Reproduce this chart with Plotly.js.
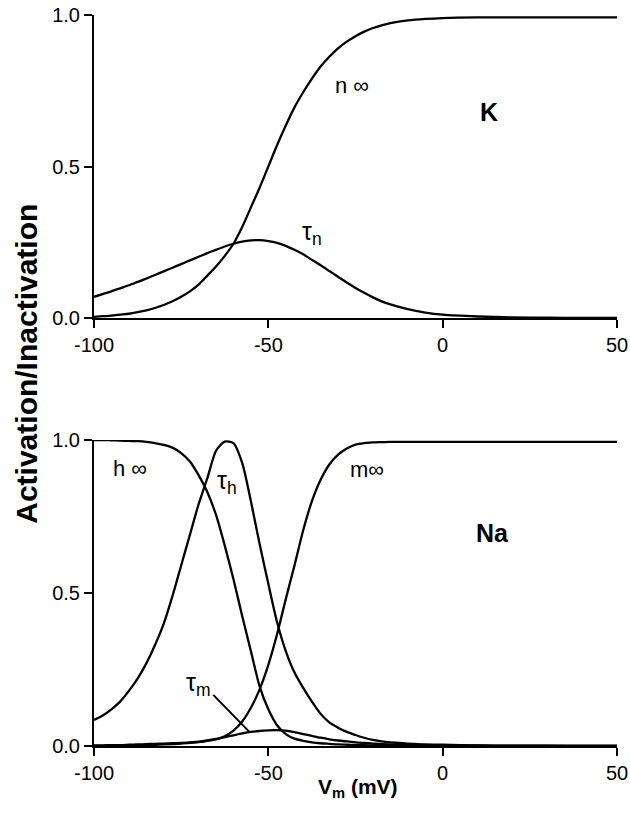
<!DOCTYPE html>
<html>
<head>
<meta charset="utf-8">
<script src="https://cdn.plot.ly/plotly-3.0.1.min.js"></script>
<style>html,body{margin:0;padding:0;background:#fff;}#chart{width:630px;height:813px;}</style>
</head>
<body>
<div id="chart"></div>
<script>
// ---- Data ----
// Membrane potential samples (mV), shared by every curve
const Vm = [-100,-97.5,-95,-92.5,-90,-87.5,-85,-82.5,-80,-77.5,-75,-72.5,-70,-67.5,-65,-62.5,-60,-57.5,-55,-52.5,
            -50,-47.5,-45,-42.5,-40,-37.5,-35,-32.5,-30,-27.5,-25,-22.5,-20,-17.5,-15,-10,-5,0,10,20,30,40,50];

// Top panel (K)
const nInf = [0.004,0.006,0.008,0.011,0.014,0.019,0.025,0.033,0.043,0.055,0.07,0.088,0.11,0.14,0.17,0.205,0.245,0.3,0.365,0.43,
              0.5,0.57,0.635,0.695,0.745,0.79,0.83,0.862,0.89,0.912,0.93,0.945,0.957,0.966,0.973,0.982,0.987,0.99,0.992,0.992,0.992,0.992,0.992];
const tauN = [0.07,0.079,0.088,0.098,0.108,0.119,0.13,0.142,0.154,0.166,0.178,0.19,0.202,0.214,0.225,0.236,0.245,0.252,0.256,0.257,
              0.254,0.248,0.238,0.225,0.21,0.192,0.174,0.155,0.136,0.117,0.099,0.083,0.068,0.055,0.045,0.029,0.018,0.011,0.005,0.002,0.001,0,0];

// Bottom panel (Na)
const hInf = [1.0,1.0,0.999,0.998,0.997,0.996,0.994,0.99,0.984,0.975,0.957,0.93,0.885,0.83,0.755,0.655,0.545,0.425,0.31,0.195,
              0.12,0.068,0.039,0.024,0.017,0.012,0.009,0.007,0.005,0.004,0.003,0.0025,0.002,0.0015,0.001,0.001,0.001,0,0,0,0,0,0];
const tauH = [0.085,0.1,0.12,0.145,0.18,0.22,0.27,0.33,0.4,0.49,0.59,0.69,0.79,0.875,0.965,0.995,0.99,0.925,0.8,0.66,
              0.53,0.405,0.31,0.24,0.19,0.145,0.105,0.077,0.06,0.046,0.036,0.027,0.02,0.015,0.012,0.008,0.005,0.004,0.002,0.001,0.001,0,0];
const mInf = [0,0,0.001,0.001,0.002,0.002,0.003,0.004,0.005,0.006,0.008,0.01,0.013,0.017,0.022,0.032,0.05,0.08,0.125,0.185,
              0.265,0.365,0.48,0.59,0.705,0.8,0.87,0.92,0.952,0.972,0.985,0.99,0.992,0.993,0.994,0.994,0.994,0.994,0.994,0.994,0.994,0.994,0.994];
const tauM = [0.002,0.002,0.003,0.003,0.004,0.005,0.006,0.007,0.008,0.009,0.01,0.012,0.014,0.018,0.023,0.029,0.035,0.041,0.046,0.049,
              0.051,0.052,0.05,0.045,0.039,0.033,0.027,0.022,0.018,0.015,0.012,0.01,0.008,0.006,0.005,0.003,0.002,0.001,0.001,0,0,0,0];

// Tick labels
const xTickVals = [-100,-50,0,50];
const xTickText = ['-100','-50','0','50'];
const yTickVals = [0,0.5,1];
const yTickText = ['0.0','0.5','1.0'];

const FONT = 'Liberation Sans, Arial, Helvetica, sans-serif';
const lineStyle = {color:'#000', width:2.3, shape:'spline', smoothing:0.7};
function tr(y,xa,ya){return {x:Vm,y:y,xaxis:xa,yaxis:ya,type:'scatter',mode:'lines',line:lineStyle,hoverinfo:'skip'};}

const data = [
  tr(nInf,'x','y'),
  tr(tauN,'x','y'),
  tr(hInf,'x2','y2'),
  tr(tauH,'x2','y2'),
  tr(mInf,'x2','y2'),
  tr(tauM,'x2','y2')
];

function xax(anchor){return {anchor:anchor, range:[-100,50], tickmode:'array', tickvals:xTickVals, ticktext:xTickText,
  showgrid:false, zeroline:false, showline:true, linecolor:'#000', linewidth:2,
  ticks:'outside', ticklen:8, tickwidth:2, tickcolor:'#000',
  tickfont:{family:FONT,size:20,color:'#000'}, fixedrange:true};}
function yax(anchor,domain){return {anchor:anchor, domain:domain, range:[0,1], tickmode:'array', tickvals:yTickVals, ticktext:yTickText,
  showgrid:false, zeroline:false, showline:true, linecolor:'#000', linewidth:2,
  ticks:'outside', ticklen:8, tickwidth:2, tickcolor:'#000',
  tickfont:{family:FONT,size:20,color:'#000'}, fixedrange:true};}

function lab(text,x,y,xr,yr,size,bold){
  return {text: bold?'<b>'+text+'</b>':text, x:x, y:y, xref:xr, yref:yr, showarrow:false,
    xanchor:'center', yanchor:'middle', font:{family:FONT,size:size,color:'#000'}};
}

const layout = {
  width:630, height:813,
  margin:{l:94, r:13, t:15, b:67},
  paper_bgcolor:'#fff', plot_bgcolor:'#fff',
  showlegend:false,
  xaxis: xax('y'),
  yaxis: yax('x',[0.5855,1]),
  xaxis2: xax('y2'),
  yaxis2: yax('x2',[0,0.4186]),
  annotations:[
    lab('n \u221E',-26,0.766,'x','y',22,false),
    lab('\u03C4<sub>n</sub>',-37.5,0.28,'x','y',25,false),
    lab('K',13.3,0.68,'x','y',25,true),
    lab('h \u221E',-89.7,0.908,'x2','y2',22,false),
    lab('\u03C4<sub>h</sub>',-61.9,0.863,'x2','y2',25,false),
    lab('m\u221E',-21.7,0.905,'x2','y2',22,false),
    lab('\u03C4<sub>m</sub>',-70.2,0.203,'x2','y2',25,false),
    lab('Na',14.4,0.696,'x2','y2',25,true),
    {text:'<b>Activation/Inactivation</b>', xref:'paper', yref:'paper', x:-0.128, y:0.523,
     textangle:-90, showarrow:false, xanchor:'center', yanchor:'middle', font:{family:FONT,size:30,color:'#000'}},
    {text:'<b>V<sub>m</sub> (mV)</b>', xref:'paper', yref:'paper', x:0.505, y:-0.058,
     showarrow:false, xanchor:'center', yanchor:'middle', font:{family:FONT,size:21,color:'#000'}}
  ],
  shapes:[
    {type:'line', xref:'x2', yref:'y2', x0:-65.8, y0:0.167, x1:-55.5, y1:0.047, line:{color:'#000', width:2}}
  ]
};

Plotly.newPlot('chart', data, layout, {staticPlot:true, displayModeBar:false});
</script>
</body>
</html>
